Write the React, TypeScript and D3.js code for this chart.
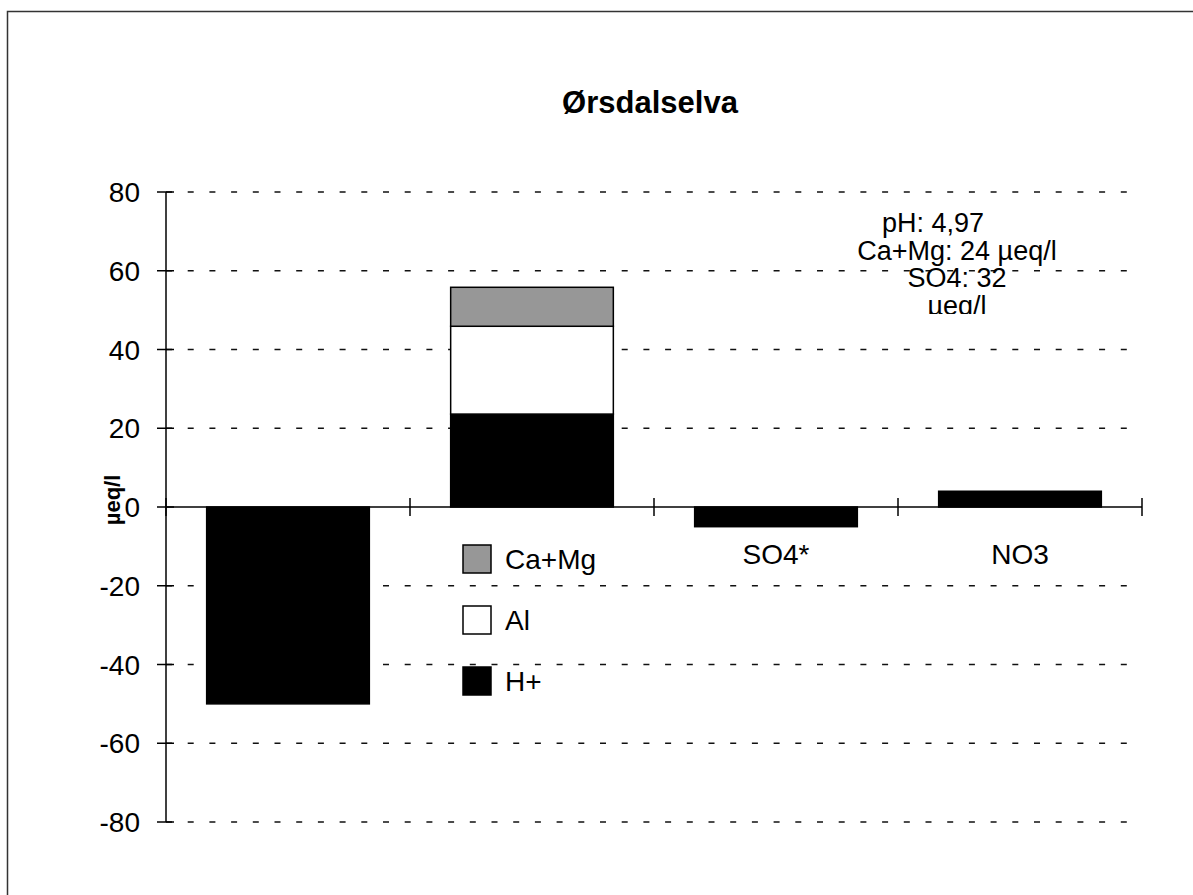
import React from "react";
import * as d3 from "d3";

const title = "Ørsdalselva";
const yLabel = "µeq/l";
const categories = ["c1", "c2", "c3", "c4"];
const categoryLabels = ["", "", "SO4*", "NO3"];
const seriesNames = ["H+", "Al", "Ca+Mg"];
const hPlus = [-50, 23.6, -5, 4];
const al = [0, 22.3, 0, 0];
const caMg = [0, 9.9, 0, 0];
const yTicks = [-80, -60, -40, -20, 0, 20, 40, 60, 80];
const noteLines = ["pH: 4,97", "Ca+Mg: 24 µeq/l", "SO4: 32", "µeq/l"];

const colors: Record<string, string> = { "H+": "#000000", Al: "#ffffff", "Ca+Mg": "#979797" };

const W = 1193;
const H = 895;
const FONT = "'Liberation Sans', Arial, sans-serif";

export default function App() {
  const x = d3.scaleBand<string>().domain(categories).range([166, 1142]).padding(0);
  const y = d3.scaleLinear().domain([-80, 80]).range([822, 192]);
  const barW = x.bandwidth() * (2 / 3);
  const barOff = (x.bandwidth() - barW) / 2;

  const rows = categories.map((c, i) => ({ cat: c, "H+": hPlus[i], Al: al[i], "Ca+Mg": caMg[i] }));
  const stack = d3
    .stack<any>()
    .keys(seriesNames)
    .offset(d3.stackOffsetDiverging);
  const layers = stack(rows);

  const x0 = x.range()[0];
  const x1 = x.range()[1];
  const boundaries = categories.map((c) => x(c)!).concat([x1]);

  const legendItems = seriesNames.slice().reverse();

  return (
    <svg width={W} height={H} style={{ position: "absolute", left: 0, top: 0, background: "#fff" }}>
      <rect x={0} y={0} width={W} height={H} fill="#fff" />
      <path d={`M7.5,${H} V11.5 H${W}`} fill="none" stroke="#333" strokeWidth={1.5} />

      <text x={650} y={113} textAnchor="middle" fontFamily={FONT} fontWeight="bold" fontSize={31} fill="#000">
        {title}
      </text>

      {/* gridlines */}
      {yTicks
        .filter((t) => t !== 0)
        .map((t) => (
          <line
            key={"g" + t}
            x1={x0}
            x2={x1}
            y1={y(t)}
            y2={y(t)}
            stroke="#111"
            strokeWidth={1.5}
            strokeDasharray="6 15.7"
          />
        ))}

      {/* bars */}
      {layers.map((layer) => (
        <g key={layer.key}>
          {layer.map((d, i) => {
            const top = y(Math.max(d[0], d[1]));
            const bot = y(Math.min(d[0], d[1]));
            if (Math.abs(bot - top) < 0.01) return null;
            return (
              <rect
                key={i}
                x={x(categories[i])! + barOff}
                y={top}
                width={barW}
                height={bot - top}
                fill={colors[layer.key]}
                stroke="#000"
                strokeWidth={1.5}
              />
            );
          })}
        </g>
      ))}

      {/* y axis */}
      <line x1={x0} x2={x0} y1={y(80)} y2={y(-80)} stroke="#000" strokeWidth={1.5} />
      {yTicks.map((t) => (
        <g key={"t" + t}>
          <line x1={x0 - 9} x2={x0 + 8} y1={y(t)} y2={y(t)} stroke="#000" strokeWidth={1.5} />
          <text
            x={140}
            y={y(t)}
            dy="0.36em"
            textAnchor="end"
            fontFamily={FONT}
            fontSize={28}
            fill="#000"
          >
            {t}
          </text>
        </g>
      ))}

      {/* x axis (zero line) */}
      <line x1={x0} x2={x1} y1={y(0)} y2={y(0)} stroke="#000" strokeWidth={1.5} />
      {boundaries.map((b, i) => (
        <line key={"xb" + i} x1={b} x2={b} y1={y(0) - 9} y2={y(0) + 9} stroke="#000" strokeWidth={1.5} />
      ))}
      {categories.map((c, i) => (
        <text
          key={"cl" + c}
          x={x(c)! + x.bandwidth() / 2}
          y={564}
          textAnchor="middle"
          fontFamily={FONT}
          fontSize={28}
          fill="#000"
        >
          {categoryLabels[i]}
        </text>
      ))}

      {/* y label */}
      <text
        transform={`translate(112,${(y(80) + y(-80)) / 2 - 7}) rotate(-90)`}
        textAnchor="middle"
        dy="0.35em"
        fontFamily={FONT}
        fontWeight="bold"
        fontSize={22}
        fill="#000"
      >
        {yLabel}
      </text>

      {/* legend */}
      {legendItems.map((name, i) => {
        const ly = 545 + i * 61;
        return (
          <g key={"lg" + name}>
            <rect x={463} y={ly} width={28} height={28} fill={colors[name]} stroke="#000" strokeWidth={1.5} />
            <text x={505} y={ly + 14} dy="0.36em" fontFamily={FONT} fontSize={28} fill="#000">
              {name}
            </text>
          </g>
        );
      })}

      {/* annotation */}
      <defs>
        <clipPath id="noteClip">
          <rect x={820} y={195} width={300} height={119} />
        </clipPath>
      </defs>
      <g clipPath="url(#noteClip)">
        {noteLines.map((l, i) => (
          <text
            key={"n" + i}
            x={i === 0 ? 933 : 957}
            y={232 + i * 27.7}
            textAnchor="middle"
            fontFamily={FONT}
            fontSize={27}
            fill="#000"
          >
            {l}
          </text>
        ))}
      </g>
    </svg>
  );
}
